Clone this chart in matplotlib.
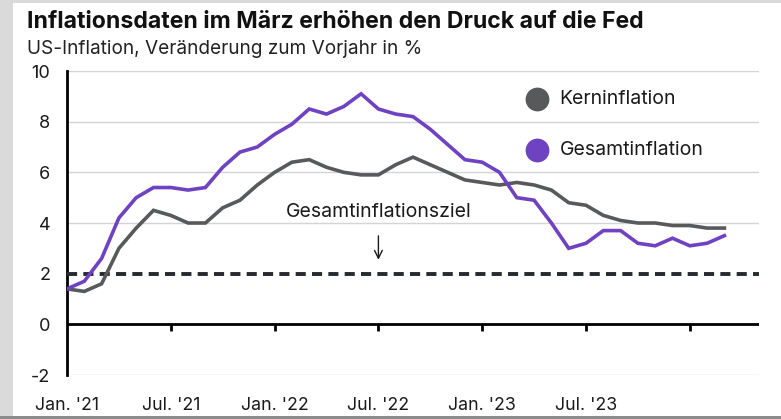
"""US-Inflation: Kern- und Gesamtinflation gegenüber dem Fed-Ziel."""

import matplotlib

matplotlib.use("Agg")
import matplotlib.pyplot as plt
from matplotlib.patches import Rectangle

plt.rcParams["font.family"] = ["Inter", "DejaVu Sans"]

# Veränderung zum Vorjahr in %, monatlich Jan. 2021 bis Mrz. 2024
core = [1.4, 1.3, 1.6, 3.0, 3.8, 4.5, 4.3, 4.0, 4.0, 4.6, 4.9, 5.5,
        6.0, 6.4, 6.5, 6.2, 6.0, 5.9, 5.9, 6.3, 6.6, 6.3, 6.0, 5.7,
        5.6, 5.5, 5.6, 5.5, 5.3, 4.8, 4.7, 4.3, 4.1, 4.0, 4.0, 3.9,
        3.9, 3.8, 3.8]
headline = [1.4, 1.7, 2.6, 4.2, 5.0, 5.4, 5.4, 5.3, 5.4, 6.2, 6.8, 7.0,
            7.5, 7.9, 8.5, 8.3, 8.6, 9.1, 8.5, 8.3, 8.2, 7.7, 7.1, 6.5,
            6.4, 6.0, 5.0, 4.9, 4.0, 3.0, 3.2, 3.7, 3.7, 3.2, 3.1, 3.4,
            3.1, 3.2, 3.5]
months = list(range(len(core)))  # 0 = Jan. 2021

target = 2.0
tick_months = [0, 6, 12, 18, 24, 30, 36]
tick_labels = ["Jan. '21", "Jul. '21", "Jan. '22", "Jul. '22", "Jan. '23", "Jul. '23", ""]
y_ticks = [-2, 0, 2, 4, 6, 8, 10]

PURPLE = "#6f42c1"
GREY = "#58595b"
INK = "#1a1a1a"

W, H = 781, 419
fig = plt.figure(figsize=(W / 100, H / 100), dpi=100, facecolor="#dadada")
# weißes Panel vor dem grauen Rand
fig.patches.append(Rectangle((13 / W, 3 / H), 1, 413 / H, transform=fig.transFigure,
                             facecolor="white", edgecolor="none", zorder=-5))
fig.patches.append(Rectangle((0, 0), 1, 3 / H, transform=fig.transFigure,
                             facecolor="#8c8c8c", edgecolor="none", zorder=-5))

ax = fig.add_axes([67 / W, 1 - 375 / H, (759 - 67) / W, (375 - 71) / H])
ax.set_zorder(2)
ax.set_facecolor("none")
ax.set_xlim(0, 40)
ax.set_ylim(-2, 10)

for y in y_ticks:
    if y in (0, target):
        continue
    ax.axhline(y, color="#d4d4d4", lw=1.0, zorder=1)
ax.axhline(0, color="black", lw=2.0, zorder=2)
ax.vlines(tick_months[1:], -0.28, 0, color="black", lw=2.0, zorder=2)
ax.axhline(target, color="#262a2e", lw=2.8, dashes=(2.6, 1.6), zorder=3)

ax.plot(months, core, color=GREY, lw=2.6, zorder=4, solid_joinstyle="miter")
ax.plot(months, headline, color=PURPLE, lw=2.6, zorder=5, solid_joinstyle="miter")

ax.annotate("Gesamtinflationsziel", xy=(18, 2.55), xytext=(18, 4.45),
            ha="center", va="center", fontsize=14, color=INK,
            arrowprops=dict(arrowstyle="->", lw=1.0, color=INK,
                            shrinkA=9, shrinkB=0, mutation_scale=14))

# Legende
for ypos, colour, label in [(0.909, GREY, "Kerninflation"), (0.741, PURPLE, "Gesamtinflation")]:
    ax.scatter([0.679], [ypos], s=260, color=colour, transform=ax.transAxes,
               clip_on=False, zorder=6)
    ax.text(0.712, ypos, label, transform=ax.transAxes, fontsize=14,
            va="center", ha="left", color=INK)

for side in ("top", "right", "bottom"):
    ax.spines[side].set_visible(False)
ax.spines["left"].set_linewidth(2.0)
ax.spines["left"].set_color("black")

ax.set_yticks(y_ticks)
ax.set_yticklabels([str(v) for v in y_ticks], fontsize=13, color=INK)
ax.tick_params(axis="y", length=0, pad=12)
ax.set_xticks(tick_months)
ax.set_xticklabels(tick_labels, fontsize=12.8, color=INK)
ax.tick_params(axis="x", length=0, pad=16)

fig.text(27 / W, 1 - 28 / H, "Inflationsdaten im März erhöhen den Druck auf die Fed",
         fontsize=16.6, fontweight="bold", color="#111111", va="baseline")
fig.text(27 / W, 1 - 54 / H, "US-Inflation, Veränderung zum Vorjahr in %",
         fontsize=13.7, color="#222222", va="baseline")

fig.savefig("out.png", dpi=100, facecolor=fig.get_facecolor())
